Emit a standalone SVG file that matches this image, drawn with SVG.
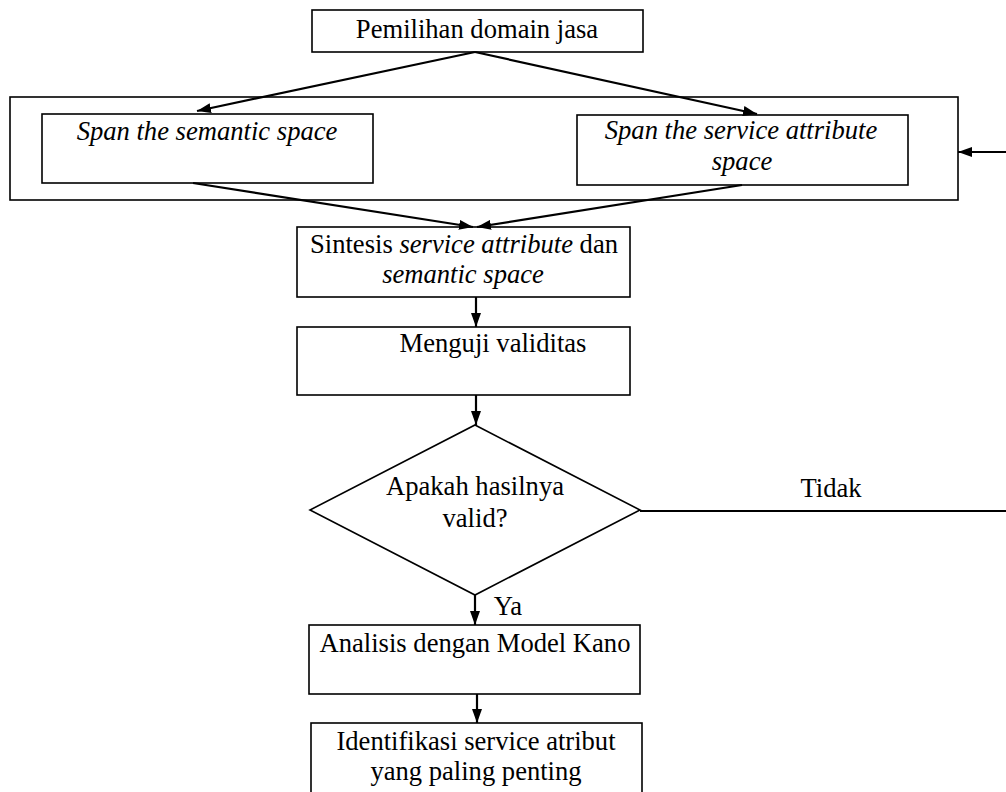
<svg xmlns="http://www.w3.org/2000/svg" width="1006" height="792" viewBox="0 0 1006 792">
<style>
.box{fill:#fff;stroke:#000;stroke-width:1.6}
.ln{fill:none;stroke:#000;stroke-width:2.2}
text{font-family:"Liberation Serif","Times New Roman",serif;font-size:26.6px;fill:#000;text-anchor:middle}
.it{font-style:italic}
</style>
<defs>
<marker id="ah" viewBox="0 0 14 10" refX="14" refY="5" markerWidth="14" markerHeight="10" markerUnits="userSpaceOnUse" orient="auto">
<path d="M0,0 L14,5 L0,10 Z" fill="#000"/>
</marker>
</defs>
<rect width="1006" height="792" fill="#fff"/>
<g id="outer-group">
<rect class="box" x="10" y="97" width="948" height="103"/>
</g>
<g id="n-pemilihan">
<rect class="box" x="312" y="10" width="331" height="42"/>
<text x="477" y="38">Pemilihan domain jasa</text>
</g>
<g id="n-span-semantic">
<rect class="box" x="42" y="114" width="331" height="69"/>
<text class="it" x="207" y="140">Span the semantic space</text>
</g>
<g id="n-span-service">
<rect class="box" x="577" y="115" width="331" height="70"/>
<text class="it" x="741" y="139">Span the service attribute</text>
<text class="it" x="742" y="170">space</text>
</g>
<g id="n-sintesis">
<rect class="box" x="297" y="227" width="333" height="70"/>
<text x="464" y="253">Sintesis <tspan class="it">service attribute</tspan> dan</text>
<text class="it" x="463" y="283">semantic space</text>
</g>
<g id="n-menguji">
<rect class="box" x="297" y="327" width="333" height="68"/>
<text x="493" y="352">Menguji validitas</text>
</g>
<g id="n-decision">
<polygon class="box" points="475,425 640,510 475,595 310,510"/>
<text x="475" y="495">Apakah hasilnya</text>
<text x="475" y="527">valid?</text>
</g>
<g id="n-analisis">
<rect class="box" x="309" y="625" width="331" height="69"/>
<text x="475" y="652">Analisis dengan Model Kano</text>
</g>
<g id="n-identifikasi">
<rect class="box" x="311" y="723" width="331" height="80"/>
<text x="476" y="750">Identifikasi service atribut</text>
<text x="476" y="780">yang paling penting</text>
</g>
<g id="connectors">
<line class="ln" x1="475" y1="52" x2="197" y2="111" marker-end="url(#ah)"/>
<line class="ln" x1="475" y1="52" x2="757" y2="114" marker-end="url(#ah)"/>
<line class="ln" x1="193" y1="183" x2="473" y2="227" marker-end="url(#ah)"/>
<line class="ln" x1="742" y1="185" x2="477" y2="227" marker-end="url(#ah)"/>
<line class="ln" x1="476" y1="297" x2="476" y2="327" marker-end="url(#ah)"/>
<line class="ln" x1="476" y1="395" x2="476" y2="425" marker-end="url(#ah)"/>
<line class="ln" x1="475" y1="595" x2="475" y2="625" marker-end="url(#ah)"/>
<line class="ln" x1="477" y1="694" x2="477" y2="723" marker-end="url(#ah)"/>
<line class="ln" x1="640" y1="511" x2="1006" y2="511"/>
<line class="ln" x1="1006" y1="152" x2="958" y2="152" marker-end="url(#ah)"/>
<text x="831" y="497">Tidak</text>
<text x="508" y="615">Ya</text>
</g>
</svg>
